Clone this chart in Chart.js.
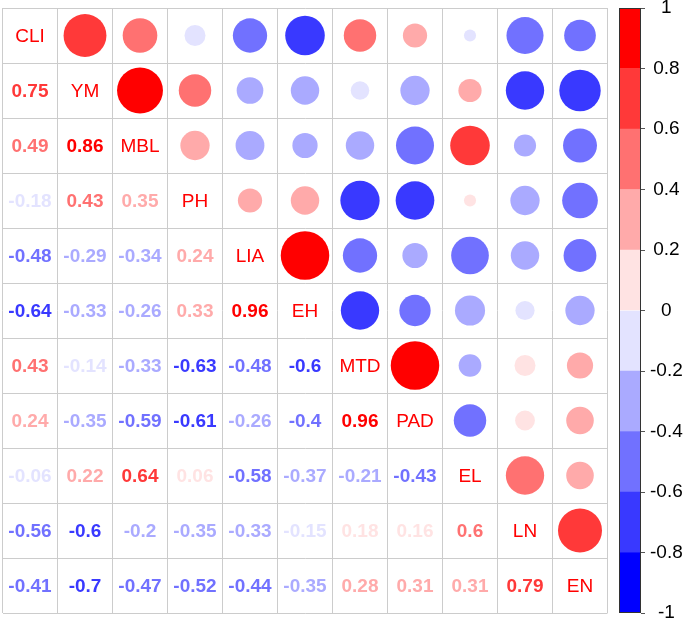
<!DOCTYPE html>
<html>
<head>
<meta charset="utf-8">
<script src="https://cdn.jsdelivr.net/npm/chart.js@4/dist/chart.umd.min.js"></script>
<style>
  body { margin: 0; background: #fff; overflow: hidden; }
  canvas { position: absolute; }
</style>
</head>
<body>
<canvas id="corrChart" width="685" height="623" style="left:0;top:0"></canvas>
<canvas id="barChart" width="85" height="663" style="left:600px;top:-20px"></canvas>
<script>
// Variáveis e correlações (triângulo inferior)
const variables = ['CLI', 'YM', 'MBL', 'PH', 'LIA', 'EH', 'MTD', 'PAD', 'EL', 'LN', 'EN'];

const rowYM  = [0.75];
const rowMBL = [0.49, 0.86];
const rowPH  = [-0.18, 0.43, 0.35];
const rowLIA = [-0.48, -0.29, -0.34, 0.24];
const rowEH  = [-0.64, -0.33, -0.26, 0.33, 0.96];
const rowMTD = [0.43, -0.14, -0.33, -0.63, -0.48, -0.6];
const rowPAD = [0.24, -0.35, -0.59, -0.61, -0.26, -0.4, 0.96];
const rowEL  = [-0.06, 0.22, 0.64, 0.06, -0.58, -0.37, -0.21, -0.43];
const rowLN  = [-0.56, -0.6, -0.2, -0.35, -0.33, -0.15, 0.18, 0.16, 0.6];
const rowEN  = [-0.41, -0.7, -0.47, -0.52, -0.44, -0.35, 0.28, 0.31, 0.31, 0.79];

const lowerRows = [[], rowYM, rowMBL, rowPH, rowLIA, rowEH, rowMTD, rowPAD, rowEL, rowLN, rowEN];

// Escala de cores (10 classes de -1 a 1)
const colorBreaks = [-1, -0.8, -0.6, -0.4, -0.2, 0, 0.2, 0.4, 0.6, 0.8, 1];
const binColors = ['#0000FF', '#3939FF', '#7171FF', '#AAAAFF', '#E3E3FF',
                   '#FFE3E3', '#FFAAAA', '#FF7171', '#FF3939', '#FF0000'];

const FONT = '"Liberation Sans", Arial, sans-serif';

function corr(i, j) {
    if (i === j) return 1;
    return i > j ? lowerRows[i][j] : lowerRows[j][i];
}

// intervalos fechados à direita, como no corrplot
function colorFor(v) {
    const k = Math.ceil(Math.round((v + 1) * 1000) / 200) - 1;
    return binColors[Math.min(9, Math.max(0, k))];
}

// Círculos do triângulo superior
const bubbles = [];
for (let i = 0; i < variables.length; i++) {
    for (let j = i + 1; j < variables.length; j++) {
        const v = corr(i, j);
        bubbles.push({ x: j + 0.5, y: i + 0.5, r: 24.75 * Math.sqrt(Math.abs(v)), v: v });
    }
}

// Textos: diagonal e triângulo inferior
const textPlugin = {
    id: 'corrText',
    afterDatasetsDraw(chart) {
        const { ctx, scales: { x, y } } = chart;
        ctx.save();
        ctx.textAlign = 'center';
        ctx.textBaseline = 'middle';
        variables.forEach((name, i) => {
            ctx.font = '19px ' + FONT;
            ctx.fillStyle = '#FF0000';
            ctx.fillText(name, x.getPixelForValue(i + 0.5), y.getPixelForValue(i + 0.5) + 1);
            for (let j = 0; j < i; j++) {
                const v = lowerRows[i][j];
                ctx.font = 'bold 19px ' + FONT;
                ctx.fillStyle = colorFor(v);
                ctx.fillText(String(v), x.getPixelForValue(j + 0.5), y.getPixelForValue(i + 0.5) + 1);
            }
        });
        ctx.restore();
    }
};

new Chart(document.getElementById('corrChart'), {
    type: 'bubble',
    data: {
        datasets: [{
            data: bubbles,
            backgroundColor: c => colorFor(c.raw.v),
            borderWidth: 0
        }]
    },
    options: {
        responsive: false,
        animation: false,
        events: [],
        layout: { autoPadding: false, padding: { left: 2.5, top: 8, right: 77.5, bottom: 10 } },
        plugins: { legend: { display: false }, tooltip: { enabled: false } },
        scales: {
            x: {
                type: 'linear', min: 0, max: 11,
                ticks: { stepSize: 1, display: false },
                grid: { color: '#CCCCCC', drawTicks: false },
                border: { display: false }
            },
            y: {
                type: 'linear', min: 0, max: 11, reverse: true,
                ticks: { stepSize: 1, display: false },
                grid: { color: '#CCCCCC', drawTicks: false },
                border: { display: false }
            }
        }
    },
    plugins: [textPlugin]
});

// Barra de cores
const outlinePlugin = {
    id: 'outline',
    afterDatasetsDraw(chart) {
        const { ctx, chartArea: a } = chart;
        ctx.save();
        ctx.strokeStyle = '#333333';
        ctx.lineWidth = 1;
        ctx.strokeRect(Math.round(a.left) + 0.5, Math.round(a.top) + 0.5,
                       Math.round(a.right - a.left) - 1, Math.round(a.bottom - a.top) - 1);
        ctx.restore();
    }
};

new Chart(document.getElementById('barChart'), {
    type: 'bar',
    data: {
        labels: [''],
        datasets: binColors.map((col, k) => ({
            data: [[colorBreaks[k], colorBreaks[k + 1]]],
            backgroundColor: col,
            borderWidth: 0,
            borderSkipped: false,
            categoryPercentage: 1,
            barPercentage: 1
        }))
    },
    options: {
        responsive: false,
        animation: false,
        events: [],
        layout: { padding: { left: 19, top: 28, right: 0, bottom: 30 } },
        plugins: { legend: { display: false }, tooltip: { enabled: false } },
        scales: {
            x: { display: false, stacked: true },
            y: {
                position: 'right',
                stacked: false,
                min: -1, max: 1,
                afterFit(scale) { scale.width = 44; },
                ticks: {
                    stepSize: 0.2,
                    padding: 5,
                    crossAlign: 'center',
                    color: '#000',
                    font: { family: FONT, size: 19 },
                    callback: v => String(Number(v.toFixed(1)))
                },
                grid: { drawOnChartArea: false, drawTicks: true, tickLength: 4, color: '#555555' },
                border: { display: false }
            }
        }
    },
    plugins: [outlinePlugin]
});
</script>
</body>
</html>
